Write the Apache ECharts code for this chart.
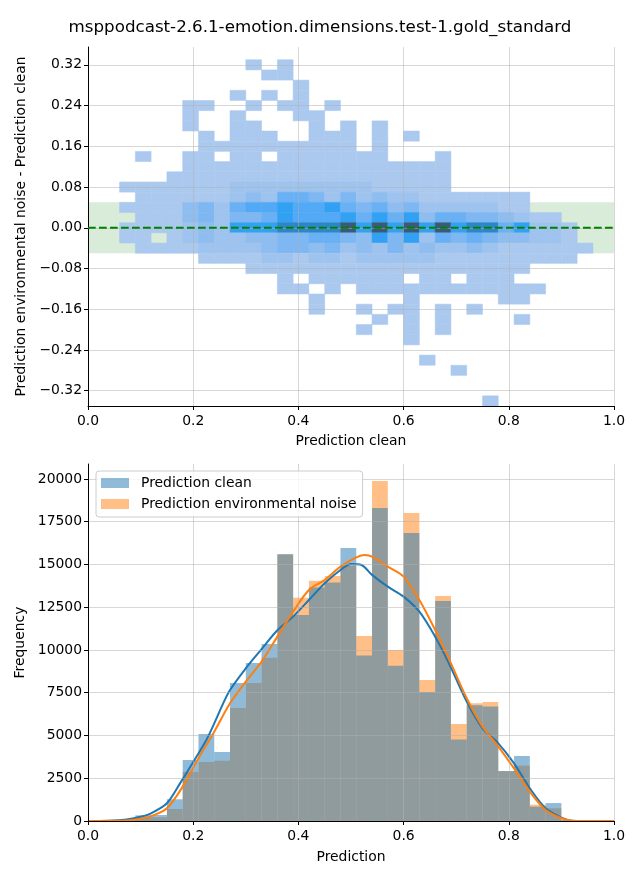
<!DOCTYPE html>
<html>
<head>
<meta charset="utf-8">
<script src="https://cdn.jsdelivr.net/npm/echarts@6/dist/echarts.min.js"></script>
<style>html,body{margin:0;padding:0;background:#fff}#c{width:640px;height:880px}</style>
</head>
<body>
<div id="c"></div>
<script>
// ---------- data ----------
const chartTitle = 'msppodcast-2.6.1-emotion.dimensions.test-1.gold_standard';
const xTicks = [0, 0.2, 0.4, 0.6, 0.8, 1.0];
const diffTicks = [-0.32, -0.24, -0.16, -0.08, 0, 0.08, 0.16, 0.24, 0.32];
const freqTicks = [0, 2500, 5000, 7500, 10000, 12500, 15000, 17500, 20000];
const diffRange = [-0.35, 0.355];
const band = [-0.05, 0.05];
const refLine = 0;

// shared bins of "Prediction clean" (x)
const binStart = 0.06;
const binWidth = 0.03;

// bivariate histogram: row centers (difference) and density level per column (1 light .. 9 darkest, '.' empty)
const heatRowHeight = 0.02;
const heatRowCenters = [0.32, 0.30, 0.28, 0.26, 0.24, 0.22, 0.20, 0.18, 0.16, 0.14, 0.12, 0.10, 0.08, 0.06, 0.04, 0.02, 0.00,
  -0.02, -0.04, -0.06, -0.08, -0.10, -0.12, -0.14, -0.16, -0.18, -0.20, -0.22, -0.24, -0.26, -0.28, -0.30, -0.32, -0.34];
const heatRows = [
  '........1.1',
  '.........11',
  '...........1',
  '.......1.1.1',
  '....11..1.11.1',
  '....1..1...11',
  '....1..11...1.1.1',
  '.....1.111..111.1.1',
  '.....1111111111.1',
  '.1..11.11.1111111...1',
  '....11111111111111111',
  '...111111111111111111',
  '111111122222222211111',
  '.1111112325542423221111111',
  '11113425667667545342222211',
  '.111342445766675757355443211',
  '11112327778888979797978857221',
  '11.12322334455437472545433221',
  '.11112222344342324232232111111',
  '.....111122122122222111111111',
  '........111111111111111111',
  '..........1.111111.11.111',
  '..........11.1.111111111111',
  '............1.....1.....11',
  '............1..1.11.1.1',
  '................1.1.1....1',
  '...............1..1.1',
  '..................1',
  '',
  '...................1',
  '.....................1',
  '',
  '',
  '.......................1'
];

// univariate histograms (counts per bin)
const seriesNames = ['Prediction clean', 'Prediction environmental noise'];
const cleanCounts = [50, 330, 350, 1270, 3570, 5090, 4040, 8070, 9240, 10350, 15600, 12050, 13650, 13940, 15960,
  9680, 18300, 9080, 16840, 7540, 12870, 4760, 6770, 6690, 2920, 3800, 840, 1050, 60, 10];
const noiseCounts = [30, 200, 220, 700, 2870, 3450, 3530, 6610, 8070, 9550, 15600, 13060, 14050, 14330, 14910,
  10820, 19880, 10000, 18010, 8250, 13160, 5670, 6880, 6960, 2920, 3240, 955, 740, 40, 10];

// KDE curves (scaled to counts)
const kdeCleanX = [0.00, 0.04, 0.07, 0.10, 0.12, 0.15, 0.175, 0.20, 0.225, 0.24, 0.257, 0.27, 0.30, 0.33, 0.36, 0.39,
  0.42, 0.45, 0.48, 0.50, 0.52, 0.54, 0.57, 0.60, 0.63, 0.66, 0.685, 0.72, 0.75, 0.78, 0.81, 0.84, 0.87, 0.90, 0.92, 0.95, 1.00];
const kdeCleanY = [5, 20, 80, 250, 450, 1035, 2200, 3450, 4740, 5710, 6880, 7660, 8930, 10050, 11150, 11950,
  12920, 13900, 14680, 15030, 14970, 14390, 13700, 13120, 12240, 10780, 9300, 6980, 5420, 4540, 3370, 1910, 740, 195, 20, 5, 0];
const kdeNoiseX = [0.00, 0.05, 0.08, 0.10, 0.12, 0.15, 0.18, 0.21, 0.24, 0.27, 0.30, 0.33, 0.36, 0.39, 0.42, 0.45,
  0.48, 0.51, 0.527, 0.54, 0.57, 0.60, 0.63, 0.66, 0.69, 0.72, 0.75, 0.78, 0.81, 0.84, 0.87, 0.90, 0.92, 0.95, 1.00];
const kdeNoiseY = [0, 10, 50, 130, 280, 740, 2010, 3670, 5220, 6880, 8150, 9320, 10780, 12240, 13510, 14090,
  14870, 15420, 15560, 15460, 14870, 14290, 12920, 11170, 9220, 7175, 5515, 4350, 3080, 1710, 640, 158, 20, 3, 0];

// ---------- styles ----------
const FONT = 'DejaVu Sans';
const heatColors = ['#abc9ee', '#9fc3ef', '#8fbdf0', '#7eb7f2', '#69b0f4', '#52a9f5', '#33a1f3', '#2c86c9', '#3a5a7c'];
const cleanColor = '#1f77b4', noiseColor = '#ff7f0e';
const cleanFill = 'rgba(31,119,180,0.5)', noiseFill = 'rgba(255,127,14,0.5)';
const gridColor = 'rgba(176,176,176,0.5)';

// ---------- build data ----------
const heatData = [];
heatRows.forEach((row, r) => {
  const yc = heatRowCenters[r];
  for (let c = 0; c < row.length; c++) {
    const ch = row[c];
    if (ch === '.') continue;
    const x0 = binStart + c * binWidth;
    heatData.push([x0, x0 + binWidth, yc - heatRowHeight / 2, yc + heatRowHeight / 2, Number(ch)]);
  }
});
const cleanBars = cleanCounts.map((v, i) => [binStart + i * binWidth, binStart + (i + 1) * binWidth, v]);
const noiseBars = noiseCounts.map((v, i) => [binStart + i * binWidth, binStart + (i + 1) * binWidth, v]);
const kdeClean = kdeCleanX.map((x, i) => [x, kdeCleanY[i]]);
const kdeNoise = kdeNoiseX.map((x, i) => [x, kdeNoiseY[i]]);
const freqMax = Math.max(...cleanCounts, ...noiseCounts) * 1.05;

const minus = s => s.replace('-', '\u2212');

function axisCommon() {
  return {
    z: 5,
    axisLine: { show: true, onZero: false, lineStyle: { color: '#000', width: 1 } },
    axisTick: { show: true, inside: false, length: 4, lineStyle: { color: '#000', width: 1 } },
    axisLabel: { color: '#000', fontSize: 13.9, fontFamily: FONT, margin: 6 },
    splitLine: { show: true, lineStyle: { color: gridColor, width: 1 } },
    nameTextStyle: { color: '#000', fontSize: 13.9, fontFamily: FONT },
    nameLocation: 'middle'
  };
}
function merge(a, b) {
  const o = Object.assign({}, a);
  for (const k in b) {
    if (b[k] && typeof b[k] === 'object' && !Array.isArray(b[k]) && o[k] && typeof o[k] === 'object') {
      o[k] = Object.assign({}, o[k], b[k]);
    } else o[k] = b[k];
  }
  return o;
}

function renderCell(params, api) {
  const a = api.coord([api.value(0), api.value(3)]);
  const b = api.coord([api.value(1), api.value(2)]);
  const col = heatColors[api.value(4) - 1];
  return { type: 'rect', shape: { x: a[0], y: a[1], width: b[0] - a[0], height: b[1] - a[1] },
    style: { fill: col, stroke: col, lineWidth: 0.5 } };
}
function renderBar(fill) {
  return function (params, api) {
    const a = api.coord([api.value(0), api.value(2)]);
    const b = api.coord([api.value(1), 0]);
    return { type: 'rect', shape: { x: a[0], y: a[1], width: b[0] - a[0], height: b[1] - a[1] },
      style: { fill: fill } };
  };
}
function renderBand(params, api) {
  const cs = params.coordSys;
  const top = api.coord([0, api.value(1)])[1];
  const bot = api.coord([0, api.value(0)])[1];
  return { type: 'rect', shape: { x: cs.x, y: top, width: cs.width, height: bot - top },
    style: { fill: 'rgba(0,128,0,0.15)' } };
}
function renderRef(params, api) {
  const cs = params.coordSys;
  const y = api.coord([0, api.value(0)])[1];
  return { type: 'line', shape: { x1: cs.x, y1: y, x2: cs.x + cs.width, y2: y },
    style: { stroke: '#008000', lineWidth: 2, lineDash: [7.7, 3.3] } };
}

const chart = echarts.init(document.getElementById('c'), null, { renderer: 'canvas' });
chart.setOption({
  animation: false,
  backgroundColor: '#fff',
  title: { text: chartTitle, left: 'center', top: 19, padding: 0,
    textStyle: { fontSize: 16.7, fontWeight: 'normal', color: '#000', fontFamily: FONT } },
  legend: {
    data: seriesNames, orient: 'vertical', left: 96, top: 471, z: 10,
    padding: [5, 6, 6, 5], itemGap: 7, itemWidth: 28, itemHeight: 10, icon: 'rect',
    backgroundColor: 'rgba(255,255,255,0.8)', borderColor: '#cccccc', borderWidth: 1, borderRadius: 3,
    selectedMode: false,
    textStyle: { fontSize: 13.9, fontFamily: FONT, color: '#000', lineHeight: 14, padding: [0, 0, 0, 7] }
  },
  grid: [
    { left: 88, width: 526, top: 47, height: 359 },
    { left: 88, width: 526, top: 464, height: 357 }
  ],
  xAxis: [
    merge(axisCommon(), { type: 'value', gridIndex: 0, min: 0, max: 1, interval: 0.2, name: 'Prediction clean', nameGap: 28,
      axisLabel: { margin: 8, formatter: v => v.toFixed(1) } }),
    merge(axisCommon(), { type: 'value', gridIndex: 1, min: 0, max: 1, interval: 0.2, name: 'Prediction', nameGap: 29,
      axisLabel: { margin: 8, formatter: v => v.toFixed(1) } })
  ],
  yAxis: [
    merge(axisCommon(), { type: 'value', gridIndex: 0, min: diffRange[0], max: diffRange[1],
      name: 'Prediction environmental noise - Prediction clean', nameGap: 58,
      axisTick: { customValues: diffTicks },
      axisLabel: { customValues: diffTicks, formatter: v => minus(v.toFixed(2)) } }),
    merge(axisCommon(), { type: 'value', gridIndex: 1, min: 0, max: freqMax, name: 'Frequency', nameGap: 58,
      axisTick: { customValues: freqTicks },
      axisLabel: { customValues: freqTicks, formatter: v => String(v) } })
  ],
  series: [
    { type: 'custom', name: 'band', xAxisIndex: 0, yAxisIndex: 0, z: 1, silent: true,
      renderItem: renderBand, encode: { y: [0, 1] }, data: [band] },
    { type: 'custom', name: 'density', xAxisIndex: 0, yAxisIndex: 0, z: 2, silent: true,
      renderItem: renderCell, encode: { x: [0, 1], y: [2, 3] }, data: heatData },
    { type: 'custom', name: 'ref', xAxisIndex: 0, yAxisIndex: 0, z: 6, silent: true,
      renderItem: renderRef, encode: { y: 0 }, data: [[refLine]] },
    { type: 'custom', name: seriesNames[1], xAxisIndex: 1, yAxisIndex: 1, z: 2,
      itemStyle: { color: noiseFill }, renderItem: renderBar(noiseFill), encode: { x: [0, 1], y: 2 }, data: noiseBars },
    { type: 'custom', name: seriesNames[0], xAxisIndex: 1, yAxisIndex: 1, z: 2,
      itemStyle: { color: cleanFill }, renderItem: renderBar(cleanFill), encode: { x: [0, 1], y: 2 }, data: cleanBars },
    { type: 'line', name: 'kde clean', xAxisIndex: 1, yAxisIndex: 1, z: 3, data: kdeClean, smooth: 0.3,
      showSymbol: false, lineStyle: { color: cleanColor, width: 2 }, itemStyle: { color: cleanColor } },
    { type: 'line', name: 'kde noise', xAxisIndex: 1, yAxisIndex: 1, z: 3, data: kdeNoise, smooth: 0.3,
      showSymbol: false, lineStyle: { color: noiseColor, width: 2 }, itemStyle: { color: noiseColor } }
  ]
});
</script>
</body>
</html>
